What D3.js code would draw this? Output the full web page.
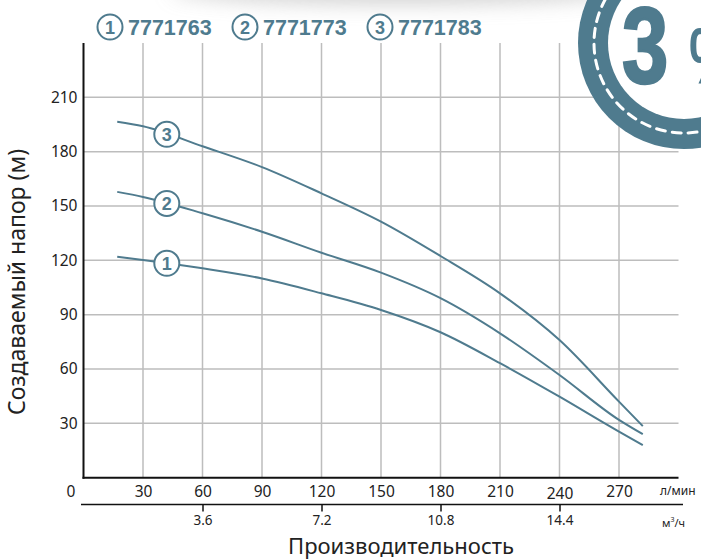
<!DOCTYPE html>
<html><head><meta charset="utf-8">
<script src="https://cdn.jsdelivr.net/npm/d3@7"></script>
<style>
html,body{margin:0;padding:0;background:#fff;}
svg{display:block;}
</style></head>
<body>
<svg id="chart" width="701" height="560"></svg>
<script>
// ---- data ----
const flowLpm = [17, 30, 60, 90, 120, 150, 180, 210, 240, 270, 282];
const head1 = [122, 120.2, 115.6, 110, 101.8, 92.6, 80.3, 63.2, 44.7, 25.4, 18];
const head2 = [157.8, 155, 146, 135.8, 124.2, 113.2, 99.1, 79.7, 56.7, 31.9, 24];
const head3 = [196.5, 194, 183, 171.5, 157, 141.4, 122.4, 101.8, 76, 42, 28.5];
const seriesNames = ["1", "2", "3"];
const modelCodes = ["7771763", "7771773", "7771783"];
const xTicks = [30, 60, 90, 120, 150, 180, 210, 240, 270];
const yTicks = [30, 60, 90, 120, 150, 180, 210];
const m3Ticks = [3.6, 7.2, 10.8, 14.4];
const labelFlow = 42;

const teal = "#4f7b8e";
const svg = d3.select("#chart");

const x = d3.scaleLinear([0, 300], [83.5, 678.5]);
const xm = d3.scaleLinear([0, 18], [83.5, 678.5]);
const y = d3.scaleLinear([0, 240], [477.7, 43]);

// top shadow
const defs = svg.append("defs");
const f = defs.append("filter").attr("id", "blur").attr("x", "-50%").attr("y", "-200%").attr("width", "200%").attr("height", "500%");
f.append("feGaussianBlur").attr("stdDeviation", 10);
svg.append("ellipse").attr("cx", 400).attr("cy", -10).attr("rx", 230).attr("ry", 14)
  .attr("fill", "#bfbfbf").attr("opacity", 0.7).attr("filter", "url(#blur)");

// grid
const g = svg.append("g");
g.selectAll("line.vg").data(xTicks).join("line")
  .attr("x1", d => x(d)).attr("x2", d => x(d)).attr("y1", y(240)).attr("y2", y(0))
  .attr("stroke", "#bdbdbd").attr("stroke-width", 1.5);
g.selectAll("line.hg").data(yTicks).join("line")
  .attr("x1", x(0)).attr("x2", x(300)).attr("y1", d => y(d)).attr("y2", d => y(d))
  .attr("stroke", "#bdbdbd").attr("stroke-width", 1.5);

// axes lines
g.append("line").attr("x1", x(0)).attr("x2", x(0)).attr("y1", y(240)).attr("y2", y(0) + 1)
  .attr("stroke", "#111").attr("stroke-width", 2);
g.append("line").attr("x1", x(0) - 1).attr("x2", x(300)).attr("y1", y(0)).attr("y2", y(0))
  .attr("stroke", "#111").attr("stroke-width", 2);

const tickFont = "'Noto Sans', sans-serif";
// y tick labels
const yAxis = d3.axisLeft(y).tickValues(yTicks).tickSize(0).tickPadding(6);
const ya = svg.append("g").attr("transform", `translate(${x(0)},0)`).call(yAxis);
ya.select(".domain").remove();
ya.selectAll("text").attr("font-family", tickFont).attr("font-size", 15.5).attr("fill", "#222");

// x tick labels (l/min)
const xAxis = d3.axisBottom(x).tickValues(xTicks).tickSize(0).tickPadding(0);
const xa = svg.append("g").attr("transform", `translate(0,${y(0)})`).call(xAxis);
xa.select(".domain").remove();
xa.selectAll("text").attr("font-family", tickFont).attr("font-size", 15.5).attr("fill", "#222")
  .attr("dy", null).attr("y", 19)
  .filter(d => d === 240).attr("y", 21);
svg.append("text").attr("x", 71).attr("y", y(0) + 19).attr("text-anchor", "middle")
  .attr("font-family", tickFont).attr("font-size", 15.5).attr("fill", "#222").text("0");
svg.append("text").attr("x", 660).attr("y", y(0) + 17)
  .attr("font-family", tickFont).attr("font-size", 12).attr("fill", "#222").text("л/мин");

// secondary axis (m3/h)
const x2y = 504.5;
svg.append("line").attr("x1", 81).attr("x2", 683).attr("y1", x2y).attr("y2", x2y)
  .attr("stroke", "#111").attr("stroke-width", 1.5);
const xAxis2 = d3.axisBottom(xm).tickValues(m3Ticks).tickSize(7).tickSizeOuter(0).tickPadding(4)
  .tickFormat(d3.format(".1f"));
const xb = svg.append("g").attr("transform", `translate(0,${x2y})`).call(xAxis2);
xb.select(".domain").remove();
xb.selectAll("line").attr("stroke", "#111").attr("stroke-width", 1.5);
xb.selectAll("text").attr("font-family", tickFont).attr("font-size", 13.5).attr("fill", "#222");
const m3 = svg.append("text").attr("x", 662).attr("y", 527)
  .attr("font-family", tickFont).attr("font-size", 11).attr("fill", "#222");
m3.append("tspan").text("м");
m3.append("tspan").attr("font-size", 7).attr("dy", -5).text("3");
m3.append("tspan").attr("dy", 5).text("/ч");

// axis titles
svg.append("text").attr("x", 401).attr("y", 554).attr("text-anchor", "middle")
  .attr("font-family", tickFont).attr("font-size", 22).attr("fill", "#222").text("Производительность");
svg.append("text").attr("transform", `translate(25,282) rotate(-90)`).attr("text-anchor", "middle")
  .attr("font-family", tickFont).attr("font-size", 23).attr("fill", "#222").text("Создаваемый напор (м)");

// curves
const series = [head1, head2, head3];
const line = d3.line().x(d => x(d[0])).y(d => y(d[1])).curve(d3.curveMonotoneX);
series.forEach((hs, i) => {
  const pts = flowLpm.map((q, j) => [q, hs[j]]);
  svg.append("path").attr("d", line(pts)).attr("fill", "none")
    .attr("stroke", teal).attr("stroke-width", 2);
});

// curve labels
function interp(hs, q) {
  for (let j = 0; j < flowLpm.length - 1; j++) {
    if (q >= flowLpm[j] && q <= flowLpm[j + 1]) {
      const t = (q - flowLpm[j]) / (flowLpm[j + 1] - flowLpm[j]);
      return hs[j] + t * (hs[j + 1] - hs[j]);
    }
  }
  return hs[0];
}
function badge(parent, cx, cy, label) {
  parent.append("circle").attr("cx", cx).attr("cy", cy).attr("r", 12.5)
    .attr("fill", "#fff").attr("stroke", teal).attr("stroke-width", 2);
  parent.append("text").attr("x", cx).attr("y", cy + 6.5).attr("text-anchor", "middle")
    .attr("font-family", "'Liberation Sans', Arial, sans-serif").attr("font-weight", "bold")
    .attr("font-size", 18).attr("fill", teal).text(label);
}
series.forEach((hs, i) => {
  badge(svg, x(labelFlow), y(interp(hs, labelFlow)), seriesNames[i]);
});

// legend
modelCodes.forEach((code, i) => {
  const cx = 110 + i * 135, cy = 27;
  badge(svg, cx, cy, seriesNames[i]);
  svg.append("text").attr("x", cx + 18).attr("y", cy + 8)
    .attr("font-family", "'Liberation Sans', Arial, sans-serif").attr("font-weight", "bold")
    .attr("font-size", 21.5).attr("fill", teal).text(code);
});

// corner emblem
const em = svg.append("g");
const ecx = 684, ecy = 43;
em.append("circle").attr("cx", ecx).attr("cy", ecy).attr("r", 106).attr("fill", teal);
em.append("circle").attr("cx", ecx).attr("cy", ecy).attr("r", 76).attr("fill", "#fff");
em.append("circle").attr("cx", ecx).attr("cy", ecy).attr("r", 90).attr("fill", "none")
  .attr("stroke", "#fff").attr("stroke-width", 3).attr("stroke-dasharray", "9 7").attr("stroke-linecap", "round");
em.append("text").attr("transform", "translate(622,83) scale(0.8,1.04)")
  .attr("font-family", "'Liberation Sans', Arial, sans-serif").attr("font-weight", "bold")
  .attr("font-size", 104).attr("fill", teal).attr("stroke", teal).attr("stroke-width", 2.5).text("3");
em.append("text").attr("transform", "translate(689,83) scale(0.7,1)")
  .attr("font-family", "'Liberation Sans', Arial, sans-serif").attr("font-weight", "bold")
  .attr("font-size", 80).attr("fill", teal).text("%");
</script>
</body></html>
